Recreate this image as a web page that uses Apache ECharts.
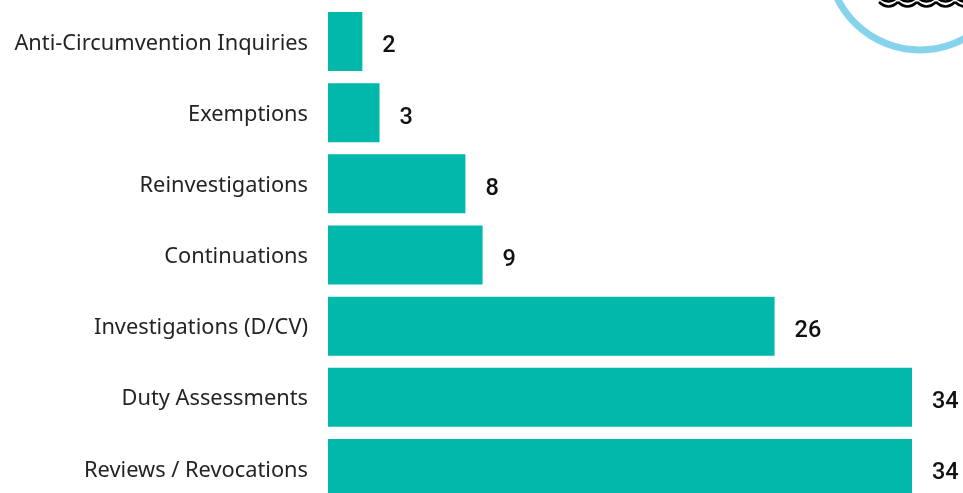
<!DOCTYPE html>
<html><head><meta charset="utf-8">
<style>html,body{margin:0;padding:0;background:#fff;overflow:hidden}#c{width:963px;height:493px}</style>
<script src="https://cdn.jsdelivr.net/npm/echarts@6/dist/echarts.min.js"></script>
</head><body><div id="c"></div>
<script>
const categories = ["Anti-Circumvention Inquiries","Exemptions","Reinvestigations","Continuations","Investigations (D/CV)","Duty Assessments","Reviews / Revocations"];
const values = [2,3,8,9,26,34,34];
const waveSegments = (y) => {
  const out = [];
  for (let x = 879; x < 970; x += 19) {
    out.push({type:'bezierCurve',silent:true,
      shape:{x1:x,y1:y,cpx1:x+9.5,cpy1:y+9,x2:x+19,y2:y},
      style:{fill:'none',stroke:'#000',lineWidth:2.6}});
  }
  return out;
};
const chart = echarts.init(document.getElementById('c'), null, {renderer:'canvas'});
chart.setOption({
  animation:false,
  grid:{left:328,top:6,width:584,height:498,containLabel:false,outerBoundsMode:'none'},
  xAxis:{type:'value',min:0,max:34,show:false},
  yAxis:{type:'category',inverse:true,data:categories,
    axisLine:{show:false},axisTick:{show:false},
    axisLabel:{margin:20,color:'#252423',fontFamily:'"Noto Sans"',fontSize:21.8,verticalAlign:'top',lineHeight:4}},
  series:[{type:'bar',data:values,barWidth:59,itemStyle:{color:'#01B8AA'},
    label:{show:true,position:'right',distance:20,color:'#111',fontFamily:'Roboto',fontWeight:500,fontSize:23.5,offset:[0,5]}}],
  graphic:[
    {type:'circle',shape:{cx:920,cy:-42,r:92},style:{fill:'none',stroke:'#87D3EC',lineWidth:7},silent:true},
    ...waveSegments(-3), ...waveSegments(2)
  ]
});
</script></body></html>
